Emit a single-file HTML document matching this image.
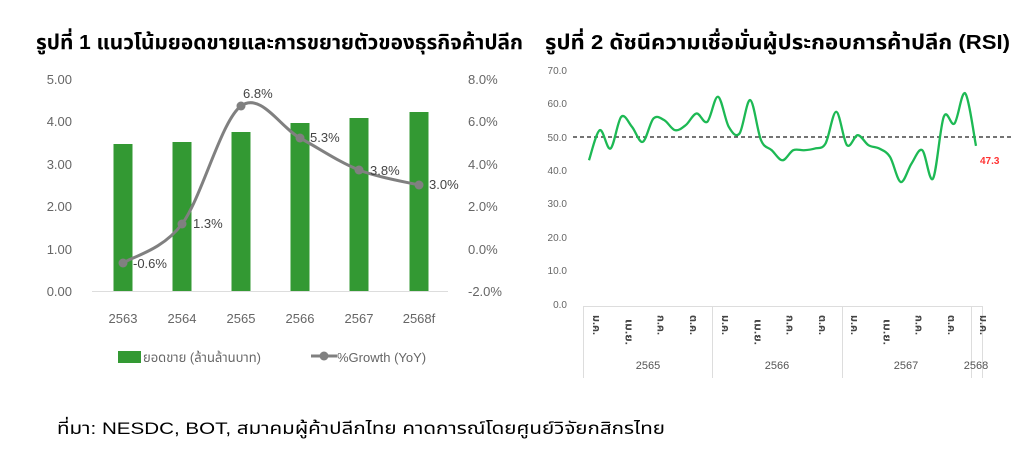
<!DOCTYPE html>
<html><head><meta charset="utf-8">
<style>
html,body{margin:0;padding:0;background:#fff;}
svg{display:block;}
text{font-family:"Liberation Sans","Noto Sans Thai","Garuda","Loma","DejaVu Sans",sans-serif;}
</style></head>
<body>
<svg id="s" width="1024" height="454" viewBox="0 0 1024 454" xmlns="http://www.w3.org/2000/svg">
<text x="36" y="49" font-size="20" font-weight="bold" fill="#000" textLength="487" lengthAdjust="spacingAndGlyphs">รูปที่ 1 แนวโน้มยอดขายและการขยายตัวของธุรกิจค้าปลีก</text>
<text x="545" y="49" font-size="20" font-weight="bold" fill="#000" textLength="465" lengthAdjust="spacingAndGlyphs">รูปที่ 2 ดัชนีความเชื่อมั่นผู้ประกอบการค้าปลีก (RSI)</text>
<text x="57" y="434" font-size="17" fill="#000" textLength="608" lengthAdjust="spacingAndGlyphs">ที่มา: NESDC, BOT, สมาคมผู้ค้าปลีกไทย คาดการณ์โดยศูนย์วิจัยกสิกรไทย</text>

<g font-size="13" fill="#666">
<text x="72" y="84" text-anchor="end">5.00</text>
<text x="72" y="126" text-anchor="end">4.00</text>
<text x="72" y="169" text-anchor="end">3.00</text>
<text x="72" y="211" text-anchor="end">2.00</text>
<text x="72" y="254" text-anchor="end">1.00</text>
<text x="72" y="296" text-anchor="end">0.00</text>
<text x="468" y="84">8.0%</text>
<text x="468" y="126">6.0%</text>
<text x="468" y="169">4.0%</text>
<text x="468" y="211">2.0%</text>
<text x="468" y="254">0.0%</text>
<text x="468" y="296">-2.0%</text>
</g>
<line x1="92" y1="291.5" x2="448" y2="291.5" stroke="#ddd" stroke-width="1"/>
<g fill="#339933">
<rect x="113.5" y="144" width="19" height="147"/>
<rect x="172.5" y="142" width="19" height="149"/>
<rect x="231.5" y="132" width="19" height="159"/>
<rect x="290.5" y="123" width="19" height="168"/>
<rect x="349.5" y="118" width="19" height="173"/>
<rect x="409.5" y="112" width="19" height="179"/>
</g>
<g font-size="13" fill="#666" text-anchor="middle">
<text x="123" y="323">2563</text><text x="182" y="323">2564</text><text x="241" y="323">2565</text>
<text x="300" y="323">2566</text><text x="359" y="323">2567</text><text x="419" y="323">2568f</text>
</g>
<path id="gl" fill="none" stroke="#808080" stroke-width="3"/>
<g fill="#808080">
<circle cx="123" cy="263" r="4.5"/><circle cx="182" cy="224" r="4.5"/><circle cx="241" cy="106" r="4.5"/>
<circle cx="300" cy="138" r="4.5"/><circle cx="359" cy="170" r="4.5"/><circle cx="419" cy="185" r="4.5"/>
</g>
<g font-size="13" fill="#444">
<text x="133" y="268">-0.6%</text><text x="193" y="228">1.3%</text><text x="243" y="98">6.8%</text>
<text x="310" y="142">5.3%</text><text x="370" y="175">3.8%</text><text x="429" y="189">3.0%</text>
</g>
<rect x="118" y="351" width="23" height="12" fill="#339933"/>
<text x="143" y="362" font-size="13" fill="#666">ยอดขาย (ล้านล้านบาท)</text>
<line x1="311" y1="356" x2="337" y2="356" stroke="#808080" stroke-width="3"/>
<circle cx="324" cy="356" r="4.5" fill="#808080"/>
<text x="337" y="362" font-size="13" fill="#666">%Growth (YoY)</text>

<g font-size="10" fill="#666" text-anchor="end">
<text x="567" y="74">70.0</text><text x="567" y="107">60.0</text><text x="567" y="141">50.0</text>
<text x="567" y="174">40.0</text><text x="567" y="207">30.0</text><text x="567" y="241">20.0</text>
<text x="567" y="274">10.0</text><text x="567" y="308">0.0</text>
</g>
<line x1="573" y1="137" x2="1013" y2="137" stroke="#222" stroke-width="1.3" stroke-dasharray="4,3"/>
<g stroke="#ddd" stroke-width="1">
<line x1="583.5" y1="306" x2="583.5" y2="378"/>
<line x1="712.5" y1="306" x2="712.5" y2="378"/>
<line x1="842.5" y1="306" x2="842.5" y2="378"/>
<line x1="971.5" y1="306" x2="971.5" y2="378"/>
<line x1="982.5" y1="306" x2="982.5" y2="378"/>
<line x1="583" y1="306.5" x2="982" y2="306.5"/>
</g>
<g id="mon" font-size="11" font-weight="bold" fill="#444"></g>
<g font-size="11" fill="#555" text-anchor="middle">
<text x="648" y="369">2565</text><text x="777" y="369">2566</text><text x="906" y="369">2567</text><text x="976" y="369">2568</text>
</g>
<path id="rl" fill="none" stroke="#1db954" stroke-width="2.3"/>
<text x="980" y="164" font-size="10" font-weight="bold" fill="#ff3333">47.3</text>
</svg>
<script>
function cr(p){var d="M"+p[0][0]+","+p[0][1];for(var i=0;i<p.length-1;i++){var a=p[i-1]||p[i],b=p[i],c=p[i+1],e=p[i+2]||c;
d+=" C"+(b[0]+(c[0]-a[0])/6)+","+(b[1]+(c[1]-a[1])/6)+" "+(c[0]-(e[0]-b[0])/6)+","+(c[1]-(e[1]-b[1])/6)+" "+c[0]+","+c[1];}return d;}
document.getElementById("gl").setAttribute("d",cr([[123,263],[182,224],[241,106],[300,138],[359,170],[419,185]]));
var v=[43,52,46.5,56,53,48.5,55.5,55,52,53.5,57,54.5,62,53,51,61,49,46,43,46,46,46.5,48,57.5,47.5,50.5,47.5,46.5,44,36.5,42,46,37.5,56,54,63,47.3];
var p=v.map(function(y,i){return [589+i*10.75,304-y*3.343];});
document.getElementById("rl").setAttribute("d",cr(p));
var m=document.getElementById("mon"),lab=["ม.ค.","เม.ย.","ก.ค.","ต.ค."],h="";
for(var i=0;i<13;i++){var x=589+i*3*10.75+4;var t=lab[i%4];var L=(i%4==1)?26:20;var y0=(i%4==1)?319:315;
h+='<text transform="translate('+x+','+y0+') rotate(90)" textLength="'+L+'" lengthAdjust="spacingAndGlyphs">'+t+'</text>';}
m.innerHTML=h;
</script>
</body></html>
